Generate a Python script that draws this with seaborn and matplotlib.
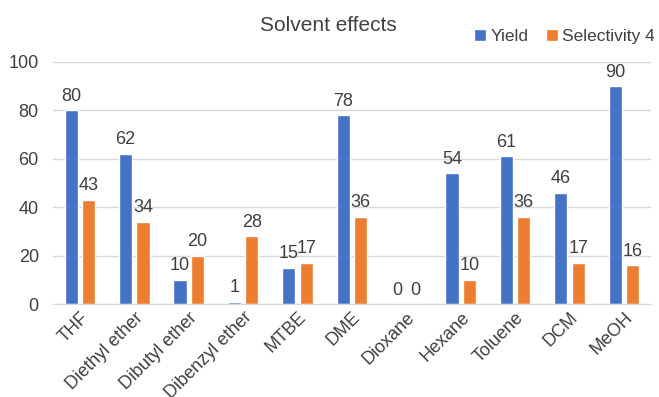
import matplotlib
matplotlib.use("Agg")
import matplotlib.pyplot as plt
import seaborn as sns
import pandas as pd

# Chart data ----------------------------------------------------------
solvents = ["THF", "Diethyl ether", "Dibutyl ether", "Dibenzyl ether", "MTBE",
            "DME", "Dioxane", "Hexane", "Toluene", "DCM", "MeOH"]
yield_vals = [80, 62, 10, 1, 15, 78, 0, 54, 61, 46, 90]
selectivity_vals = [43, 34, 20, 28, 17, 36, 0, 10, 36, 17, 16]
series_names = ["Yield", "Selectivity 4"]
colors = ["#4472C4", "#ED7D31"]
# ---------------------------------------------------------------------

df = pd.DataFrame({
    "Solvent": solvents * 2,
    "Value": yield_vals + selectivity_vals,
    "Series": [series_names[0]] * len(solvents) + [series_names[1]] * len(solvents),
})

sns.set_style("white")
plt.rcParams["font.family"] = ["Liberation Sans", "DejaVu Sans"]

fig = plt.figure(figsize=(6.59, 3.97), dpi=100)
ax = fig.add_axes([0.080, 0.234, 0.908, 0.610])

sns.barplot(data=df, x="Solvent", y="Value", hue="Series", palette=colors,
            saturation=1, width=0.64, gap=0.25, ax=ax, legend=True)

# value labels above each bar
for cont in ax.containers:
    ax.bar_label(cont, fmt="%d", padding=4, fontsize=13, color="#404040")

ax.set_ylim(0, 100)
ax.set_yticks(range(0, 101, 20))
ax.set_xlim(-0.5, len(solvents) - 0.5)
ax.yaxis.grid(True, color="#D9D9D9", linewidth=1)
ax.set_axisbelow(True)
for s in ["left", "right", "top"]:
    ax.spines[s].set_visible(False)
ax.spines["bottom"].set_color("#D9D9D9")
ax.set_xlabel("")
ax.set_ylabel("")
ax.tick_params(axis="both", length=0, labelsize=13, labelcolor="#404040")
ax.tick_params(axis="y", pad=10)
plt.setp(ax.get_xticklabels(), rotation=45, ha="right", rotation_mode="anchor")

ax.legend(loc="upper right", bbox_to_anchor=(0.999, 0.935), bbox_transform=fig.transFigure,
          ncol=2, frameon=False, borderaxespad=0, borderpad=0.2,
          fontsize=12.5, handlelength=0.7, handleheight=0.7, handletextpad=0.25,
          columnspacing=1.0, labelcolor="#404040")

fig.text(0.498, 0.935, "Solvent effects", ha="center", va="center",
         fontsize=15, color="#404040")

fig.savefig("out.png", dpi=100)
